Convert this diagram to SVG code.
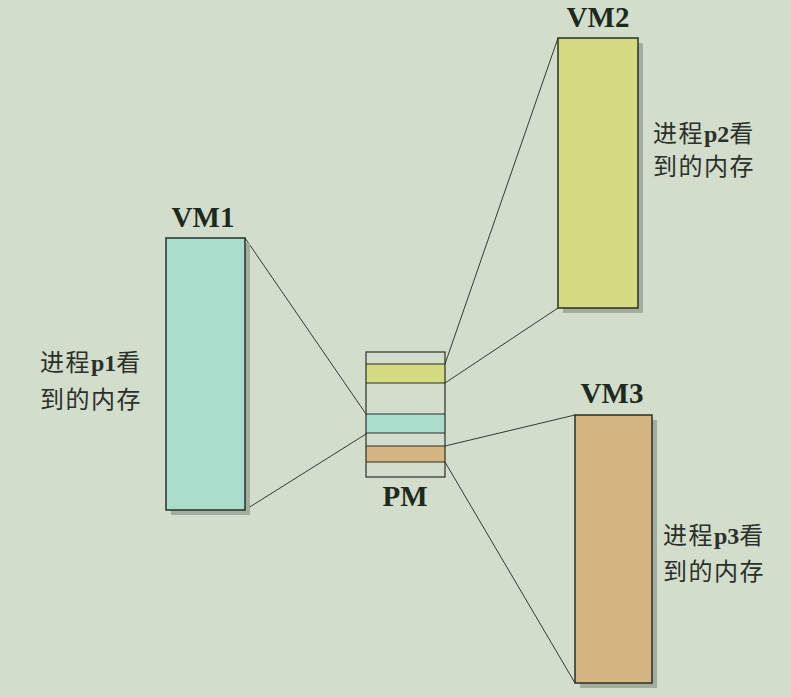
<svg xmlns="http://www.w3.org/2000/svg" width="791" height="697" viewBox="0 0 791 697">
<style>
.bg{fill:#d3ddcb}
.shadow{fill:#a3ad9e}
.box{stroke:#2a2f28;stroke-width:1.5}
.pm{stroke:#2a2f28;stroke-width:1.2;fill:none}
.lbl{font-family:"Liberation Serif",serif;font-weight:bold;font-size:29px;fill:#1c2a1c;text-anchor:middle}
.cn{font-family:"Noto Sans CJK SC",sans-serif;font-size:24px;fill:#2a302a;letter-spacing:1.5px}
.en{font-family:"Liberation Serif",serif;font-weight:bold;letter-spacing:0}
.conn{stroke:#333a33;stroke-width:1;fill:none}
</style>
<rect class="bg" x="0" y="0" width="791" height="697"/>
<g id="connectors">
<line class="conn" x1="245" y1="238" x2="366" y2="414"/>
<line class="conn" x1="245" y1="510" x2="366" y2="434"/>
<line class="conn" x1="558" y1="38" x2="445" y2="364"/>
<line class="conn" x1="558" y1="308" x2="445" y2="383"/>
<line class="conn" x1="575" y1="415" x2="445" y2="446"/>
<line class="conn" x1="575" y1="683" x2="445" y2="462"/>
</g>
<g id="vm1">
<rect class="shadow" x="171" y="243" width="79" height="272"/>
<rect class="box" x="166" y="238" width="79" height="272" fill="#a9dccb"/>
<text class="lbl" x="203" y="227">VM1</text>
<text class="cn" x="40" y="371">进程<tspan class="en">p1</tspan>看</text>
<text class="cn" x="40" y="408">到的内存</text>
</g>
<g id="vm2">
<rect class="shadow" x="563" y="43" width="80" height="270"/>
<rect class="box" x="558" y="38" width="80" height="270" fill="#d4db80"/>
<text class="lbl" x="598" y="27">VM2</text>
<text class="cn" x="653" y="142">进程<tspan class="en">p2</tspan>看</text>
<text class="cn" x="653" y="175">到的内存</text>
</g>
<g id="vm3">
<rect class="shadow" x="580" y="420" width="77" height="268"/>
<rect class="box" x="575" y="415" width="77" height="268" fill="#d5b582"/>
<text class="lbl" x="612" y="403">VM3</text>
<text class="cn" x="663" y="544">进程<tspan class="en">p3</tspan>看</text>
<text class="cn" x="663" y="580">到的内存</text>
</g>
<g id="pm">
<rect x="366" y="364" width="79" height="19" fill="#d4db80"/>
<rect x="366" y="414" width="79" height="19" fill="#a9dccb"/>
<rect x="366" y="446" width="79" height="16" fill="#d5b582"/>
<rect class="pm" x="366" y="352" width="79" height="125"/>
<line class="pm" x1="366" y1="364" x2="445" y2="364"/>
<line class="pm" x1="366" y1="383" x2="445" y2="383"/>
<line class="pm" x1="366" y1="414" x2="445" y2="414"/>
<line class="pm" x1="366" y1="433" x2="445" y2="433"/>
<line class="pm" x1="366" y1="446" x2="445" y2="446"/>
<line class="pm" x1="366" y1="462" x2="445" y2="462"/>
<text class="lbl" x="405" y="506">PM</text>
</g>
</svg>
